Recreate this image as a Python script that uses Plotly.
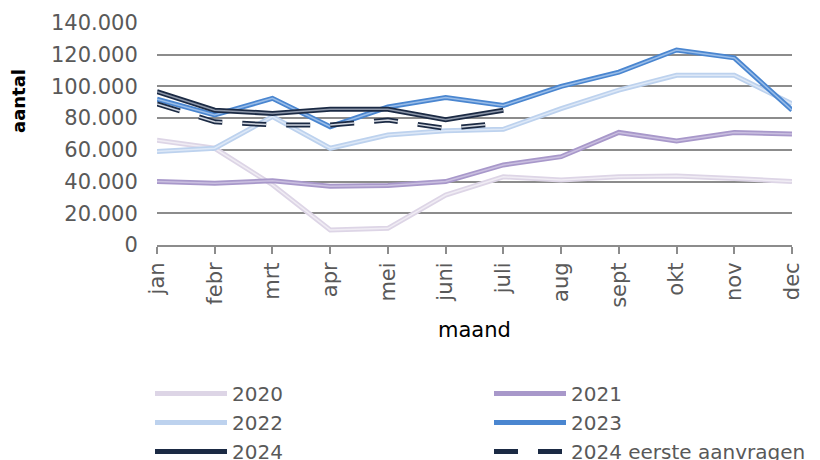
import plotly.graph_objects as go

months = ["jan", "febr", "mrt", "apr", "mei", "juni", "juli", "aug", "sept", "okt", "nov", "dec"]
v2020 = [66000, 61000, 38000, 9500, 10500, 31500, 43000, 41000, 43000, 43500, 42000, 40000]
v2021 = [40000, 39000, 40500, 37000, 37500, 40000, 50500, 55700, 71000, 65600, 71000, 70000]
v2022 = [59000, 61000, 81000, 61000, 69400, 72000, 73000, 86000, 97700, 107000, 107000, 89000]
v2023 = [92000, 82000, 92500, 74600, 87000, 93000, 88000, 100000, 109000, 123000, 118000, 85000]
v2024 = [96700, 85000, 83000, 85600, 85600, 79000, 85000]
v2024e = [89000, 77700, 75700, 75700, 78800, 73500, 77000]

series = [
    ("2020", v2020, "#DDD5E6", "#F0ECF4", "solid"),
    ("2021", v2021, "#A898CA", "#CABFE0", "solid"),
    ("2022", v2022, "#BDD2EE", "#DDE8F7", "solid"),
    ("2023", v2023, "#4A86D0", "#9ABDE8", "solid"),
    ("2024", v2024, "#1B2A44", "#8C96A8", "solid"),
    ("2024 eerste aanvragen", v2024e, "#1B2A44", "#D0D5DE", "24px,20px"),
]

# page body has an 8px offset; figure coordinates = screen - 8
W, H = 820, 480
L, R, T = 149, 36, 15
PB = 237                      # plot bottom in figure px
B = H - PB
PW, PH = W - L - R, PB - T

fig = go.Figure()
for name, vals, outer, inner, dash in series:
    x = months[:len(vals)]
    fig.add_trace(go.Scatter(x=x, y=vals, mode="lines", name=name, legendgroup=name,
                             line=dict(color=outer, width=5, dash=dash)))
    fig.add_trace(go.Scatter(x=x, y=vals, mode="lines", name=name, legendgroup=name,
                             showlegend=False, hoverinfo="skip",
                             line=dict(color=inner, width=1.5, dash=dash)))

fig.update_layout(
    width=W, height=H,
    margin=dict(l=L, r=R, t=T, b=B),
    plot_bgcolor="white", paper_bgcolor="white",
    separators=",.",
    font=dict(family="DejaVu Sans", color="#595959"),
    xaxis=dict(type="category", categoryorder="array", categoryarray=months, automargin=False,
               range=[0, 11], showgrid=False, showline=True, linecolor="#8C8C8C", linewidth=2,
               ticks="outside", ticklen=7, tickcolor="#8C8C8C", tickwidth=2, tickangle=-90,
               tickfont=dict(size=21, color="#595959")),
    yaxis=dict(range=[0, 140000], dtick=20000, tickformat=",d", showgrid=True, automargin=False,
               gridcolor="#8C8C8C", gridwidth=2, zeroline=False, showline=False,
               ticks="outside", ticklen=14, tickcolor="rgba(0,0,0,0)",
               tickfont=dict(size=21, color="#595959")),
    legend=dict(orientation="h", x=(144 - L) / PW, y=-(366 - PB) / PH,
                xanchor="left", yanchor="top",
                entrywidth=252, entrywidthmode="pixels", itemwidth=72,
                font=dict(size=20, color="#595959"), tracegroupgap=0),
    showlegend=True,
    annotations=[
        dict(text="<b>aantal</b>", textangle=-90, showarrow=False,
             xref="paper", yref="paper", x=(11 - L) / PW, y=(PB - 93) / PH,
             xanchor="center", yanchor="middle",
             font=dict(size=18, color="#000000", family="DejaVu Sans")),
        dict(text="maand", showarrow=False,
             xref="paper", yref="paper", x=0.5, y=(PB - 322) / PH,
             xanchor="center", yanchor="middle",
             font=dict(size=21, color="#000000", family="DejaVu Sans")),
    ],
)

fig.write_html("out.html")
